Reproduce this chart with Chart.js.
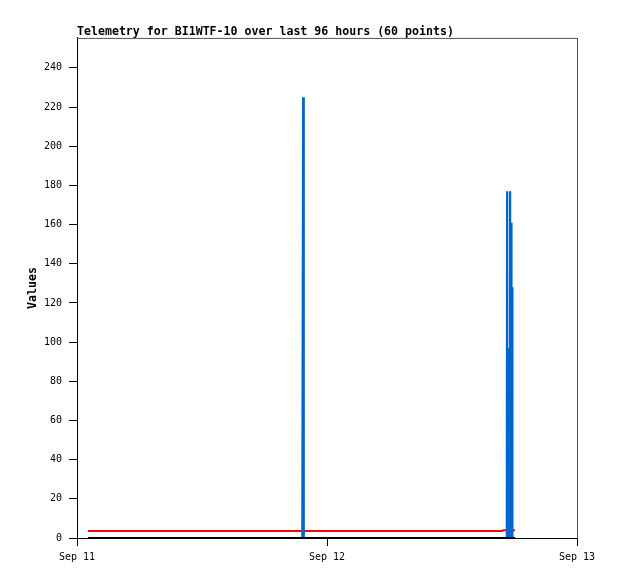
<!DOCTYPE html>
<html>
<head>
<meta charset="utf-8">
<script src="https://cdn.jsdelivr.net/npm/chart.js@4/dist/chart.umd.min.js"></script>
<style>
    html, body { margin: 0; padding: 0; background: #fff; }
    canvas { display: block; }
</style>
</head>
<body>
<canvas id="telemetryChart" width="618" height="579"></canvas>
<script>
// hours since Sep 11 00:00
const hours = [1.05, 2.8, 4.6, 6.3, 8.1, 9.9, 11.6, 13.4, 15.2, 17.0, 18.7, 20.5,
    21.62, 21.70, 21.78, 23.5, 25.3, 27.1, 28.8, 30.6, 32.4, 34.1, 35.9, 37.7,
    39.4, 40.85, 40.9, 41.25, 41.28, 41.31, 41.38, 41.40, 41.42, 41.55, 41.57,
    41.59, 41.69, 41.71, 41.73, 41.78, 41.80, 41.82, 42.05];

const blueValues = [0, 0, 0, 0, 0, 0, 0, 0, 0, 0, 0, 0,
    0, 225, 0, 0, 0, 0, 0, 0, 0, 0, 0, 0,
    0, 0, 0, 0, 177, 0, 0, 97, 0, 0, 177,
    0, 0, 161, 0, 0, 128, 0, 0];

const redValues = [3.6, 3.6, 3.6, 3.6, 3.6, 3.6, 3.6, 3.6, 3.6, 3.6, 3.6, 3.6,
    3.6, 3.6, 3.6, 3.6, 3.6, 3.6, 3.6, 3.6, 3.6, 3.6, 3.6, 3.6,
    3.6, 3.6, 4.0, 4.0, 4.0, 4.0, 4.0, 4.0, 4.0, 4.0, 4.0,
    4.0, 4.0, 4.0, 4.0, 4.0, 4.0, 4.0, 4.0];

const blackValues = hours.map(() => 0);

const dayLabels = ['Sep 11', 'Sep 12', 'Sep 13'];

const monoFont = "'DejaVu Sans Mono', 'Liberation Mono', monospace";

function toPoints(values) {
    return hours.map((h, i) => ({ x: h, y: values[i] }));
}

// top and right edges of the plot box
const frameBox = {
    id: 'frameBox',
    afterDatasetsDraw(chart) {
        const { ctx, chartArea: a } = chart;
        ctx.save();
        ctx.strokeStyle = '#555';
        ctx.lineWidth = 1;
        ctx.beginPath();
        ctx.moveTo(a.left, a.top + 0.5);
        ctx.lineTo(a.right + 0.5, a.top + 0.5);
        ctx.lineTo(a.right + 0.5, a.bottom);
        ctx.stroke();
        ctx.restore();
    }
};

new Chart(document.getElementById('telemetryChart'), {
    type: 'line',
    data: {
        datasets: [
            {
                data: toPoints(blackValues),
                borderColor: '#000000',
                borderWidth: 2,
                order: 0
            },
            {
                data: toPoints(blueValues),
                borderColor: '#0066cc',
                borderWidth: 2,
                borderJoinStyle: 'bevel',
                order: 1
            },
            {
                data: toPoints(redValues),
                borderColor: '#ff0000',
                borderWidth: 2,
                order: 2
            }
        ]
    },
    options: {
        responsive: false,
        animation: false,
        events: [],
        elements: {
            point: { radius: 0 },
            line: { tension: 0, fill: false }
        },
        layout: {
            padding: { left: 0, right: 41, top: 0, bottom: 0 }
        },
        plugins: {
            legend: { display: false },
            tooltip: { enabled: false },
            title: {
                display: true,
                text: 'Telemetry for BI1WTF-10 over last 96 hours (60 points)',
                align: 'start',
                fullSize: false,
                color: '#000',
                font: { family: monoFont, size: 11.6, weight: 'bold', lineHeight: 1.2 },
                padding: { top: 25, bottom: -1 }
            }
        },
        scales: {
            x: {
                type: 'linear',
                min: 0,
                max: 48,
                afterFit(scale) { scale.height = 41; },
                border: { display: true, color: '#000', width: 1 },
                grid: {
                    display: true,
                    drawOnChartArea: false,
                    drawTicks: true,
                    tickLength: 8,
                    tickColor: '#000'
                },
                ticks: {
                    stepSize: 24,
                    maxRotation: 0,
                    padding: 5,
                    color: '#000',
                    font: { family: monoFont, size: 10 },
                    callback: v => dayLabels[v / 24]
                }
            },
            y: {
                type: 'linear',
                min: 0,
                max: 255.3,
                afterFit(scale) { scale.width = 77; },
                afterBuildTicks(scale) {
                    scale.ticks = scale.ticks.filter(t => t.value % 20 === 0);
                },
                border: { display: true, color: '#000', width: 1 },
                grid: {
                    display: true,
                    drawOnChartArea: false,
                    drawTicks: true,
                    tickLength: 8,
                    tickColor: '#000'
                },
                title: {
                    display: true,
                    text: 'Values',
                    color: '#000',
                    font: { family: monoFont, size: 11.6, weight: 'bold', lineHeight: 1.2 },
                    padding: { top: 26, bottom: 0 }
                },
                ticks: {
                    stepSize: 20,
                    padding: 7,
                    color: '#000',
                    font: { family: monoFont, size: 10 }
                }
            }
        }
    },
    plugins: [frameBox]
});
</script>
</body>
</html>
